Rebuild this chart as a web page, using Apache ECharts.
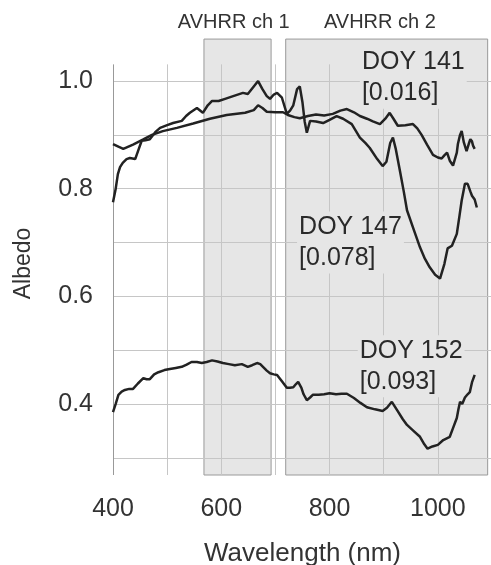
<!DOCTYPE html>
<html><head><meta charset="utf-8">
<script src="https://cdn.jsdelivr.net/npm/echarts@6/dist/echarts.min.js"></script>
<style>html,body{margin:0;padding:0;background:#fff}#c{width:491px;height:565px}</style>
</head><body><div id="c"></div>
<script>
// ---- data (wavelength nm, albedo) ----
const doy141 = [[400,0.883],[410,0.878],[419,0.874],[437,0.882],[455,0.891],[472,0.900],[492,0.907],[518,0.913],[548,0.921],[579,0.930],[610,0.937],[644,0.941],[660,0.946],[668,0.955],[676,0.950],[684,0.943],[700,0.942],[714,0.942],[723,0.937],[735,0.933],[745,0.931],[760,0.935],[775,0.938],[790,0.936],[806,0.939],[820,0.945],[832,0.948],[845,0.942],[856,0.935],[869,0.930],[880,0.925],[893,0.920],[903,0.930],[911,0.941],[918,0.930],[926,0.917],[940,0.918],[954,0.920],[962,0.912],[970,0.900],[980,0.882],[991,0.863],[1000,0.858],[1007,0.856],[1012,0.862],[1017,0.867],[1022,0.852],[1028,0.843],[1035,0.867],[1037,0.883],[1041,0.900],[1044,0.907],[1048,0.886],[1053,0.870],[1057,0.883],[1060,0.892],[1063,0.888],[1065,0.880],[1068,0.874]];
const doy147 = [[400,0.775],[405,0.800],[409,0.827],[413,0.840],[418,0.848],[425,0.855],[431,0.857],[441,0.855],[447,0.872],[453,0.889],[460,0.890],[468,0.892],[478,0.905],[487,0.913],[500,0.918],[511,0.922],[527,0.926],[535,0.935],[542,0.941],[555,0.950],[566,0.941],[575,0.955],[583,0.963],[595,0.963],[607,0.967],[622,0.972],[640,0.978],[649,0.976],[660,0.990],[668,1.000],[676,0.985],[684,0.972],[690,0.967],[697,0.975],[703,0.978],[712,0.969],[721,0.939],[727,0.945],[733,0.955],[740,0.985],[745,0.990],[750,0.960],[754,0.925],[758,0.904],[764,0.926],[775,0.925],[788,0.922],[800,0.928],[813,0.935],[825,0.930],[841,0.920],[856,0.895],[866,0.885],[874,0.876],[888,0.855],[898,0.842],[905,0.850],[912,0.885],[917,0.895],[922,0.875],[930,0.833],[937,0.795],[943,0.760],[954,0.728],[967,0.691],[976,0.670],[985,0.654],[995,0.640],[1004,0.633],[1012,0.660],[1018,0.689],[1026,0.694],[1035,0.716],[1040,0.750],[1044,0.778],[1050,0.809],[1055,0.809],[1060,0.795],[1063,0.787],[1068,0.780],[1072,0.765]];
const doy152 = [[400,0.385],[405,0.400],[410,0.417],[416,0.423],[422,0.426],[430,0.428],[437,0.428],[446,0.438],[456,0.448],[462,0.446],[468,0.446],[476,0.455],[484,0.459],[495,0.463],[505,0.465],[516,0.467],[527,0.469],[536,0.473],[545,0.478],[555,0.478],[564,0.476],[573,0.478],[583,0.481],[593,0.479],[603,0.476],[614,0.474],[625,0.472],[638,0.474],[649,0.469],[657,0.472],[666,0.476],[672,0.474],[677,0.469],[684,0.462],[690,0.457],[697,0.455],[703,0.454],[712,0.442],[721,0.430],[727,0.430],[733,0.431],[738,0.437],[742,0.441],[748,0.430],[752,0.418],[758,0.407],[764,0.412],[769,0.417],[780,0.417],[790,0.418],[800,0.420],[812,0.418],[822,0.419],[832,0.419],[845,0.411],[857,0.402],[869,0.394],[884,0.390],[898,0.387],[906,0.393],[915,0.404],[925,0.388],[935,0.372],[943,0.361],[955,0.350],[967,0.339],[975,0.325],[981,0.317],[990,0.321],[1000,0.324],[1010,0.333],[1022,0.339],[1028,0.355],[1035,0.374],[1038,0.390],[1041,0.404],[1045,0.400],[1050,0.412],[1055,0.418],[1059,0.422],[1063,0.440],[1068,0.454]];

const xTicks = [400,500,600,700,800,900,1000];
const xTickLabels = [400,600,800,1000];
const yTicks = [0.3,0.4,0.5,0.6,0.7,0.8,0.9,1.0];
const yTickLabels = [0.4,0.6,0.8,1.0];
const bands = [[568,692],[719,1092]];
const bandLabels = ['AVHRR ch 1','AVHRR ch 2'];
const bandLabelAt = [[623,1.108],[893,1.108]];
const annoText = ['DOY 141\n[0.016]','DOY 147\n[0.078]','DOY 152\n[0.093]'];
const annoAt = [[856,1.006],[740,0.700],[852,0.470]];

const X_MIN = 400, X_MAX = 1100, Y_MIN = 0.268, Y_MAX = 1.08, GRID_TOP = 1.031, BAND_TOP = 1.078;
const FONT = '"Liberation Sans", Arial, Helvetica, sans-serif';
const TXT = '#333';

const chart = echarts.init(document.getElementById('c'), null, {renderer:'canvas'});

const gridLines = [];
yTicks.forEach(v => gridLines.push([{coord:[X_MIN, v]}, {coord:[X_MAX, v]}]));
xTicks.forEach((v,i) => gridLines.push([{coord:[v, Y_MIN], lineStyle: i===0 ? {color:'#999'} : undefined}, {coord:[v, GRID_TOP]}]));

const curve = (name, d) => ({
  name, type:'line', data:d, showSymbol:false, symbol:'none', z:8,
  lineStyle:{color:'#222', width:2.5}, animation:false
});

chart.setOption({
  animation:false,
  grid:{left:113, top:38, width:379, height:437, containLabel:false, outerBoundsMode:'none'},
  xAxis:{type:'value', min:X_MIN, max:X_MAX, interval:100,
    axisLine:{show:false}, axisTick:{show:false}, splitLine:{show:false},
    axisLabel:{margin:22, fontSize:25, color:TXT, fontFamily:FONT,
      formatter:v => xTickLabels.includes(v) ? String(v) : ''},
    name:'Wavelength (nm)', nameLocation:'middle', nameGap:66,
    nameTextStyle:{fontSize:26, color:TXT, fontFamily:FONT}},
  yAxis:[{type:'value', min:Y_MIN, max:Y_MAX, position:'left',
    axisLine:{show:false}, splitLine:{show:false},
    axisTick:{show:true, inside:true, length:18, customValues:yTicks, lineStyle:{color:'#888'}},
    axisLabel:{margin:20, fontSize:25, color:TXT, fontFamily:FONT, customValues:yTickLabels,
      formatter:v => Number(v).toFixed(1)},
    name:'Albedo', nameLocation:'middle', nameGap:78, nameRotate:90,
    nameTextStyle:{fontSize:23, color:TXT, fontFamily:FONT, padding:[0,14,0,0]}},
   {type:'value', min:Y_MIN, max:Y_MAX, position:'right',
    axisLine:{show:false}, splitLine:{show:false}, axisLabel:{show:false},
    axisTick:{show:true, inside:true, length:18, customValues:yTicks, lineStyle:{color:'#888'}}}],
  series:[
    {type:'line', data:[], z:1, silent:true,
     markArea:{silent:true, z:1, itemStyle:{color:'#e6e6e6', borderColor:'#9a9a9a', borderWidth:1},
       data: bands.map(b => [{coord:[b[0], Y_MIN]}, {coord:[b[1], BAND_TOP]}])}},
    {type:'line', data:[], z:2, silent:true,
     markLine:{silent:true, z:2, symbol:['none','none'], label:{show:false},
       lineStyle:{color:'#c6c6c6', width:1, type:'solid'}, data: gridLines}},
    curve('DOY 141', doy141),
    curve('DOY 147', doy147),
    curve('DOY 152', doy152)
  ]
});

const graphics = [];
bandLabels.forEach((t,i) => {
  const p = chart.convertToPixel({gridIndex:0}, bandLabelAt[i]);
  graphics.push({type:'text', x:p[0], y:p[1], z:4,
    style:{text:t, font:'20px ' + FONT, fill:TXT, align:'center', verticalAlign:'middle'}});
});
annoText.forEach((t,i) => {
  const p = chart.convertToPixel({gridIndex:0}, annoAt[i]);
  graphics.push({type:'text', x:p[0], y:p[1], z:4,
    style:{text:t, font:'25px ' + FONT, lineHeight:31, fill:'#2a2a2a', align:'left', verticalAlign:'middle',
      backgroundColor:'#e6e6e6', padding:[0,2]}});
});
chart.setOption({graphic:graphics});
</script></body></html>
